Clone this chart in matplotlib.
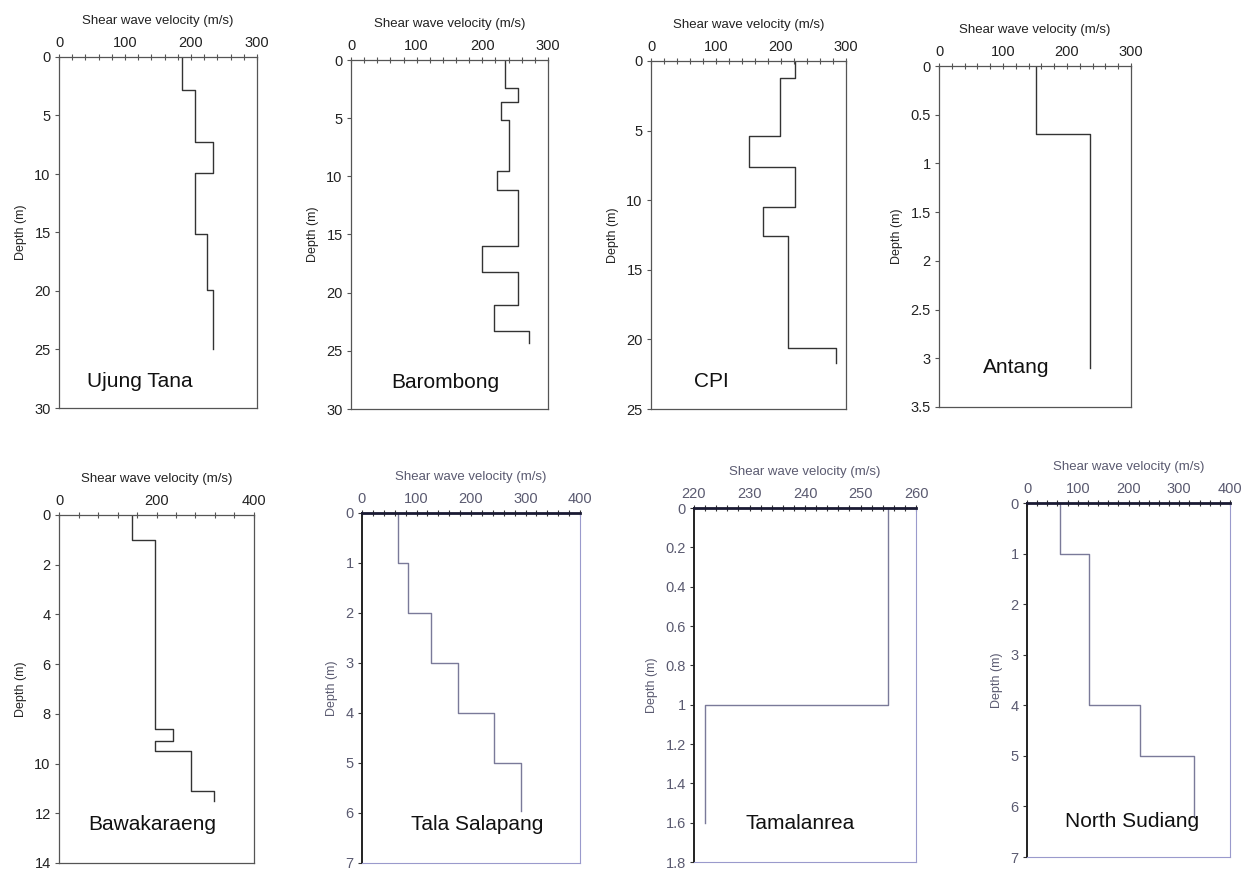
import numpy as np
import matplotlib
matplotlib.use('Agg')
import matplotlib.pyplot as plt
from matplotlib.ticker import MultipleLocator, FuncFormatter

plt.rcParams['font.family'] = ['Liberation Sans', 'DejaVu Sans']

# ==================== data (layer velocity, layer boundaries) ====================
ujung_v = [186, 206, 234, 206, 224, 234]
ujung_d = [0, 2.8, 7.3, 9.9, 15.1, 19.9, 25.0]

barombong_v = [234, 255, 228, 240, 223, 255, 199, 255, 218, 271]
barombong_d = [0, 2.4, 3.6, 5.2, 9.5, 11.2, 16.0, 18.2, 21.1, 23.3, 24.3]

cpi_v = [222, 198, 151, 222, 173, 211, 285]
cpi_d = [0, 1.2, 5.4, 7.6, 10.5, 12.6, 20.6, 21.7]

antang_v = [151, 236]
antang_d = [0, 0.7, 3.1]

bawa_v = [150, 196, 234, 196, 271, 318]
bawa_d = [0, 1.0, 8.6, 9.1, 9.5, 11.1, 11.5]

tala_v = [66, 84, 127, 176, 242, 291]
tala_d = [0, 1, 2, 3, 4, 5, 5.95]

tamal_v = [255, 222]
tamal_d = [0, 1.0, 1.6]

north_v = [65, 123, 223, 329]
north_d = [0, 1, 4, 5, 6.2]

W, H = 1241, 871

# panels: name, v, d, box (left, right, top, bottom px), xlim, xmaj, xmin, ymax, ymaj, label pos, style
panels = [
    ('Ujung Tana', ujung_v, ujung_d, (59, 257, 57, 408), (0, 300), 100, 20, 30, 5, (0.41, 0.925), 'old'),
    ('Barombong', barombong_v, barombong_d, (351, 548, 60, 409), (0, 300), 100, 20, 30, 5, (0.48, 0.925), 'old'),
    ('CPI', cpi_v, cpi_d, (651, 846, 61, 409), (0, 300), 100, 20, 25, 5, (0.31, 0.92), 'old'),
    ('Antang', antang_v, antang_d, (939, 1131, 66, 407), (0, 300), 100, 20, 3.5, 0.5, (0.40, 0.885), 'old'),
    ('Bawakaraeng', bawa_v, bawa_d, (59, 254, 515, 863), (0, 400), 200, 40, 14, 2, (0.48, 0.89), 'old'),
    ('Tala Salapang', tala_v, tala_d, (362, 580, 513, 863), (0, 400), 100, 20, 7, 1, (0.53, 0.89), 'new'),
    ('Tamalanrea', tamal_v, tamal_d, (694, 916, 508, 862), (220, 260), 10, 2, 1.8, 0.2, (0.48, 0.89), 'new'),
    ('North Sudiang', north_v, north_d, (1027, 1230, 503, 857), (0, 400), 100, 20, 7, 1, (0.52, 0.90), 'new'),
]

fig = plt.figure(figsize=(W / 100, H / 100), dpi=100)
fmt = FuncFormatter(lambda v, p: '{:g}'.format(round(v, 6)))

for name, v, d, box, xlim, xmaj, xmin, ymax, ymaj, lpos, style in panels:
    l, r, t, b = box
    ax = fig.add_axes([l / W, 1 - b / H, (r - l) / W, (b - t) / H])
    # step profile: each layer drawn as vertical segment joined by horizontals
    xs = np.repeat(v, 2)
    ys = np.concatenate([[d[0]], np.repeat(d[1:-1], 2), [d[-1]]])
    if style == 'old':
        lc, sc, tc = '#333333', '#555555', '#222222'
        ax.plot(xs, ys, color=lc, lw=1.0)
        for s in ax.spines.values():
            s.set_color(sc)
            s.set_linewidth(0.9)
    else:
        lc, sc, tc = '#7a7a99', '#9a9acc', '#5a5a70'
        ax.plot(xs, ys, color=lc, lw=1.0)
        ax.spines['top'].set_color('#1a1a33')
        ax.spines['top'].set_linewidth(2.0)
        ax.spines['left'].set_color('#222222')
        ax.spines['left'].set_linewidth(1.4)
        ax.spines['right'].set_color(sc)
        ax.spines['bottom'].set_color(sc)
    ax.set_xlim(*xlim)
    ax.set_ylim(ymax, 0)
    ax.xaxis.tick_top()
    ax.xaxis.set_label_position('top')
    ax.xaxis.set_major_locator(MultipleLocator(xmaj))
    ax.xaxis.set_minor_locator(MultipleLocator(xmin))
    ax.yaxis.set_major_locator(MultipleLocator(ymaj))
    ax.yaxis.set_major_formatter(fmt)
    ax.xaxis.set_major_formatter(fmt)
    ax.tick_params(axis='x', which='both', direction='inout', length=4, width=0.8,
                   colors=sc if style == 'old' else '#333333', labelcolor=tc, labelsize=10.5, pad=3)
    ax.tick_params(axis='y', which='major', direction='out', length=3, width=0.8,
                   colors=sc if style == 'old' else '#333333', labelcolor=tc, labelsize=10.5, pad=3)
    ax.set_xlabel('Shear wave velocity (m/s)', fontsize=9.5, color=tc, labelpad=9)
    ax.set_ylabel('Depth (m)', fontsize=9, color=tc, labelpad=5)
    ax.text(lpos[0], 1 - lpos[1], name, transform=ax.transAxes, ha='center', va='center',
            fontsize=15, color='#111111')

fig.savefig('out.png', dpi=100, facecolor='white')
